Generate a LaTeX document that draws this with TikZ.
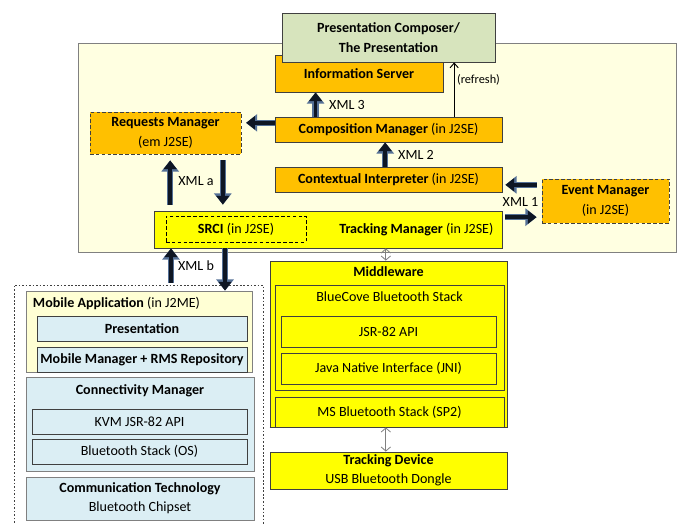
\documentclass[tikz,border=0pt]{standalone}
\usepackage{fontspec}
\setmainfont{Carlito}
\usepackage{tikz}
\usetikzlibrary{arrows.meta, positioning}
\definecolor{panelbg}{RGB}{255,255,225}
\definecolor{mobilebg}{RGB}{255,255,212}
\definecolor{orangebox}{RGB}{255,192,0}
\definecolor{yellowbox}{RGB}{255,255,0}
\definecolor{bluebox}{RGB}{219,238,244}
\definecolor{greenbox}{RGB}{215,228,189}
\definecolor{arrowcore}{RGB}{14,22,36}
\definecolor{arrowrim}{RGB}{84,112,150}
\definecolor{edge}{RGB}{64,64,64}

\begin{document}
\begin{tikzpicture}[
    x=0.03cm, y=-0.03cm,
    font=\fontsize{12}{16.5}\selectfont,
    box/.style={rectangle, draw=edge, line width=0.7pt, align=center, inner sep=1pt, fill=#1},
    dashbox/.style={box=#1, dash pattern=on 3pt off 2pt},
    fatarrow/.style={draw=arrowcore, line width=3.2pt, -{Triangle[width=11pt,length=7.5pt]},
        preaction={draw=arrowrim, line width=5.5pt, -{Triangle[width=14.5pt,length=9.5pt]}}},
    thinarrow/.style={draw=black, line width=0.8pt, -{Straight Barb[length=4pt,width=7pt]}},
    linkarrow/.style={draw=gray, line width=0.7pt, {Straight Barb[length=3.5pt,width=8pt]}-{Straight Barb[length=3.5pt,width=8pt]}}
]
\useasboundingbox (0,0) rectangle (683,523);

% server side
\draw[draw=gray, fill=panelbg, line width=0.7pt] (78,43) rectangle (676,252);
\node[box=orangebox, minimum width=5.04cm, minimum height=1.11cm] (info) at (359,73.5) {\textbf{Information Server}};
\node[box=greenbox, minimum width=6.39cm, minimum height=1.47cm] (pres) at (388.5,37.5) {\textbf{Presentation Composer/}\\\textbf{The Presentation}};
\node[box=orangebox, minimum width=6.81cm, minimum height=0.75cm] (comp) at (388.5,129.5) {\textbf{Composition Manager} (in J2SE)};
\node[box=orangebox, minimum width=6.81cm, minimum height=0.75cm] (ctx) at (388.5,179.5) {\textbf{Contextual Interpreter} (in J2SE)};
\node[dashbox=orangebox, minimum width=4.53cm, minimum height=1.26cm] (req) at (165.5,133) {\textbf{Requests Manager}\\(em J2SE)};
\node[box=yellowbox, minimum width=10.44cm, minimum height=1.11cm] (track) at (328,229.5) {};
\node[anchor=east, inner sep=1pt] (tracklbl) at ([xshift=-0.23cm]track.east) {\textbf{Tracking Manager} (in J2SE)};
\node[box=none, draw=black, dash pattern=on 3pt off 2pt, minimum width=4.2cm, minimum height=0.78cm] (srci) at (236,229) {\textbf{SRCI} (in J2SE)};
\node[dashbox=orangebox, minimum width=3.81cm, minimum height=1.32cm] (event) at (605.5,201) {\textbf{Event Manager}\\(in J2SE)};

% mobile side
\draw[draw=edge, line width=0.6pt, dash pattern=on 1.5pt off 1.5pt] (14,530) -- (14,285) -- (263,285) -- (263,530);
\node[box=mobilebg, draw=gray, minimum width=6.78cm, minimum height=2.43cm] (mobapp) at (139,331.5) {};
\node[anchor=west, inner sep=1pt] (mobapplbl) at ([xshift=0.18cm, yshift=-0.39cm]mobapp.north west) {\textbf{Mobile Application} (in J2ME)};
\node[box=bluebox, minimum width=6.3cm, minimum height=0.75cm] (prestn) at (142,328.5) {\textbf{Presentation}};
\node[box=bluebox, minimum width=6.3cm, minimum height=0.75cm] (mobmgr) at (142,359.5) {\textbf{Mobile Manager + RMS Repository}};
\node[box=bluebox, draw=gray, minimum width=6.84cm, minimum height=2.82cm] (conn) at (140,424) {};
\node[inner sep=1pt] (connlbl) at ([yshift=-0.42cm]conn.north) {\textbf{Connectivity Manager}};
\node[box=bluebox, minimum width=6.45cm, minimum height=0.75cm] (kvm) at (139.5,421.5) {KVM JSR-82 API};
\node[box=bluebox, minimum width=6.45cm, minimum height=0.75cm] (btos) at (139.5,451.5) {Bluetooth Stack (OS)};
\node[box=bluebox, draw=gray, minimum width=6.84cm, minimum height=1.29cm] (commtech) at (140,498.5) {\textbf{Communication Technology}\\Bluetooth Chipset};

% tracking side
\node[box=yellowbox, minimum width=7.11cm, minimum height=4.98cm] (mid) at (388.5,344) {};
\node[inner sep=1pt] (midlbl) at ([yshift=-0.33cm]mid.north) {\textbf{Middleware}};
\node[box=yellowbox, minimum width=6.87cm, minimum height=3.15cm] (bluecove) at (389.5,337.5) {};
\node[inner sep=1pt] (bluecovelbl) at ([yshift=-0.36cm]bluecove.north) {BlueCove Bluetooth Stack};
\node[box=yellowbox, minimum width=6.45cm, minimum height=0.93cm] (jsr) at (388.5,331.5) {JSR-82 API};
\node[box=yellowbox, minimum width=6.45cm, minimum height=0.93cm] (jni) at (388.5,368.5) {Java Native Interface (JNI)};
\node[box=yellowbox, minimum width=6.87cm, minimum height=0.9cm] (msbt) at (389.5,412) {MS Bluetooth Stack (SP2)};
\draw[draw=edge, line width=0.7pt] (mid.south west) -- (mid.south east);
\node[box=yellowbox, minimum width=7.11cm, minimum height=1.11cm] (device) at (388.5,470.5) {\textbf{Tracking Device}\\USB Bluetooth Dongle};

% arrows
\draw[fatarrow] ([xshift=1.23cm]comp.north west) -- ([xshift=1.23cm]comp.north west |- info.south);
\draw[fatarrow, shorten >=4pt] ([yshift=0.2cm]comp.west) -- ([yshift=0.2cm]comp.west -| req.east);
\draw[fatarrow] ([xshift=-0.1cm]ctx.north) -- ([xshift=-0.1cm]comp.south);
\draw[fatarrow, shorten <=0.18cm, shorten >=0.18cm] ([xshift=0.14cm]req.south |- track.north) -- ([xshift=0.14cm]req.south);
\draw[fatarrow, shorten <=0.18cm, shorten >=0.18cm] ([xshift=1.72cm]req.south) -- ([xshift=1.72cm]req.south |- track.north);
\draw[fatarrow, shorten <=0.24cm] ([xshift=0.96cm]mobapp.north) -- ([xshift=0.96cm]mobapp.north |- track.south);
\draw[fatarrow] ([xshift=2.58cm]mobapp.north |- track.south) -- ([xshift=2.58cm]mobapp.north);
\draw[fatarrow, shorten <=0.15cm, shorten >=0.09cm] ([yshift=-0.16cm]ctx.east -| event.west) -- ([yshift=-0.16cm]ctx.east);
\draw[fatarrow, shorten <=0.09cm, shorten >=0.15cm] ([yshift=0.37cm]track.east) -- ([yshift=0.37cm]track.east -| event.west);
\draw[thinarrow] ([xshift=1.97cm]comp.north) -- ([xshift=1.97cm]comp.north |- pres.south);
\draw[linkarrow] ([xshift=-0.08cm]mid.north |- track.south) -- ([xshift=-0.08cm]mid.north);
\draw[linkarrow] ([xshift=-0.08cm]mid.south) -- ([xshift=-0.08cm]device.north);

% labels
\node (xml3) at (347,105) {XML 3};
\node[font=\fontsize{10.5}{12}\selectfont] (refresh) at (478.5,80) {(refresh)};
\node (xml2) at (416,155) {XML 2};
\node (xmla) at (196,181) {XML a};
\node (xml1) at (520.5,202) {XML 1};
\node (xmlb) at (196,266) {XML b};
\end{tikzpicture}
\end{document}
